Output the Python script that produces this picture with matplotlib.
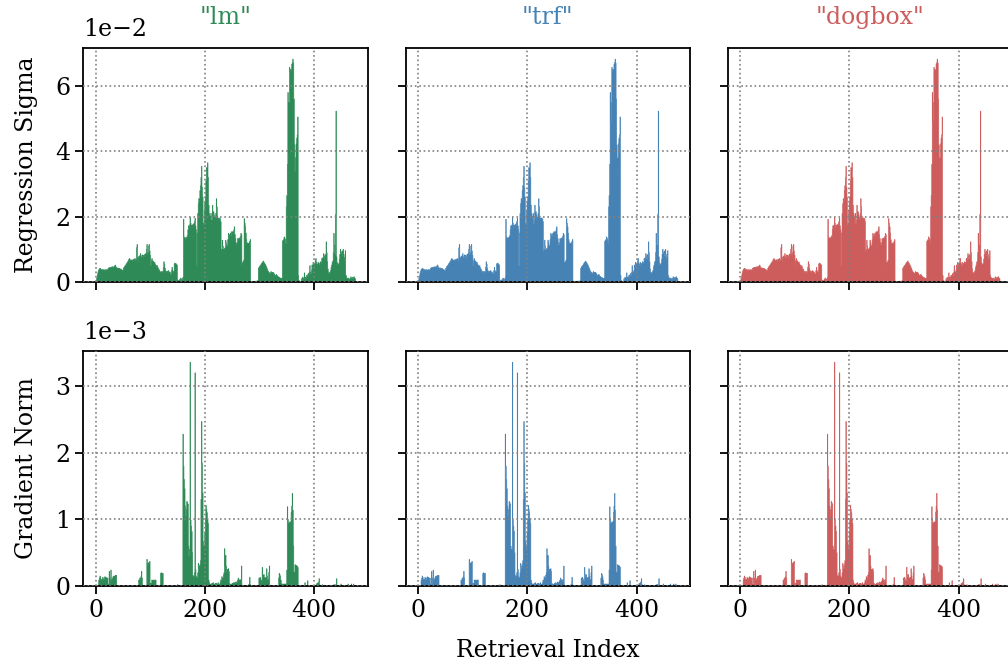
import numpy as np
import matplotlib
matplotlib.use("Agg")
import matplotlib.pyplot as plt

plt.rcParams['font.family'] = ['DejaVu Serif']

methods = ['"lm"', '"trf"', '"dogbox"']
colors = ['#2e8b57', '#4682b4', '#cd5c5c']
row_labels = ['Regression Sigma', 'Gradient Norm']
x_label = 'Retrieval Index'
xticks = [0, 200, 400]
sigma_yticks = [0, 2, 4, 6]
grad_yticks = [0, 1, 2, 3]
SIGMA_SCALE = 1e-2
GRAD_SCALE = 1e-3

# Regression sigma (units of 1e-2), one value per retrieval index
sigma = [
    0.05, 0.12, 0.2, 0.28, 0.34, 0.38, 0.4, 0.42, 0.41, 0.38,
    0.37, 0.38, 0.36, 0.37, 0.38, 0.36, 0.37, 0.37, 0.38, 0.36,
    0.37, 0.38, 0.42, 0.43, 0.44, 0.43, 0.45, 0.44, 0.46, 0.45,
    0.47, 0.46, 0.45, 0.48, 0.5, 0.52, 0.47, 0.44, 0.43, 0.42,
    0.43, 0.42, 0.42, 0.41, 0.4, 0.39, 0.38, 0.37, 0.35, 0.36,
    0.42, 0.45, 0.48, 0.5, 0.52, 0.55, 0.58, 0.6, 0.63, 0.66,
    0.7, 0.72, 0.68, 0.67, 0.66, 0.68, 0.67, 0.66, 0.69, 0.7,
    0.67, 0.72, 0.66, 0.68, 1.05, 1.15, 0.75, 0.62, 0.78, 0.8,
    0.76, 0.87, 0.77, 0.74, 0.83, 0.78, 0.82, 0.75, 0.8, 0.85,
    0.79, 0.88, 1.0, 1.15, 0.84, 0.9, 1.1, 1.15, 0.95, 0.82,
    0.5, 0.65, 0.72, 0.66, 0.64, 0.62, 0.58, 0.6, 0.55, 0.52,
    0.5, 0.48, 0.5, 0.44, 0.4, 0.38, 0.34, 0.3, 0.31, 0.32,
    0.3, 0.32, 0.3, 0.45, 0.62, 0.55, 0.42, 0.35, 0.32, 0.3,
    0.33, 0.32, 0.35, 0.3, 0.31, 0.3, 0.25, 0.22, 0.35, 0.45,
    0.35, 0.28, 0.32, 0.55, 0.58, 0.55, 0.56, 0.53, 0.52, 0.06,
    0.04, 0.03, 0.05, 0.08, 0.1, 0.12, 0.08, 0.05, 0.1, 0.15,
    1.92, 1.38, 1.35, 1.33, 1.36, 1.34, 1.38, 1.42, 1.6, 1.72,
    1.68, 1.75, 1.97, 1.8, 1.65, 1.74, 1.7, 1.76, 1.72, 1.8,
    1.85, 1.95, 1.72, 1.6, 0.5, 1.5, 2.1, 2.4, 2.55, 2.5,
    2.8, 2.95, 3.2, 3.54, 2.9, 2.6, 1.75, 1.8, 2.2, 2.45,
    2.6, 3.1, 3.5, 3.4, 3.65, 3.2, 2.35, 2.1, 2.02, 1.95,
    2.1, 1.79, 1.9, 2.35, 2.0, 2.15, 2.05, 1.99, 1.9, 2.1,
    2.55, 2.3, 2.02, 1.95, 1.94, 1.96, 1.92, 1.94, 1.85, 0.93,
    1.0, 1.28, 1.1, 0.98, 1.0, 1.03, 1.05, 1.28, 1.2, 1.12,
    1.12, 1.3, 1.49, 1.45, 1.4, 1.46, 1.5, 1.42, 1.54, 1.5,
    1.54, 1.48, 1.6, 1.69, 1.45, 1.33, 1.2, 1.13, 1.2, 1.33,
    1.3, 1.33, 1.35, 1.32, 1.4, 1.49, 1.45, 0.54, 0.6, 0.62,
    0.67, 1.94, 1.8, 1.69, 1.5, 1.3, 1.18, 1.2, 1.18, 1.17,
    1.2, 1.25, 1.3, 0.03, 0.02, 0.02, 0.01, 0.01, 0.02, 0.01,
    0.01, 0.02, 0.03, 0.02, 0.03, 0.02, 0.05, 0.42, 0.45, 0.48,
    0.5, 0.52, 0.55, 0.58, 0.6, 0.62, 0.64, 0.6, 0.58, 0.55,
    0.52, 0.48, 0.44, 0.4, 0.35, 0.32, 0.3, 0.28, 0.26, 0.28,
    0.32, 0.3, 0.28, 0.3, 0.29, 0.27, 0.24, 0.21, 0.2, 0.22,
    0.23, 0.2, 0.18, 0.16, 0.15, 0.14, 0.13, 0.12, 0.11, 0.1,
    0.12, 1.25, 1.28, 1.3, 1.38, 1.35, 1.3, 1.18, 2.3, 2.65,
    3.6, 5.8, 4.9, 5.5, 6.57, 6.45, 6.5, 6.47, 6.67, 6.72,
    6.82, 6.7, 5.6, 4.2, 3.39, 3.8, 4.23, 4.4, 4.5, 5.05,
    0.2, 0.05, 0.03, 0.02, 0.02, 0.03, 0.1, 0.08, 0.15, 0.05,
    0.12, 0.28, 0.1, 0.15, 0.12, 0.2, 0.18, 0.22, 0.26, 0.2,
    0.3, 0.5, 0.3, 0.25, 0.35, 0.52, 0.45, 0.6, 0.55, 0.5,
    0.55, 0.65, 0.72, 0.6, 0.55, 0.5, 0.6, 0.58, 0.52, 0.56,
    0.62, 0.55, 0.6, 0.72, 0.65, 0.75, 0.87, 0.8, 0.7, 0.84,
    0.78, 1.23, 0.9, 0.62, 0.4, 0.3, 0.26, 0.28, 0.31, 0.35,
    0.45, 0.52, 0.6, 0.64, 0.9, 1.49, 1.13, 0.85, 2.07, 5.23,
    0.77, 0.6, 0.52, 0.55, 0.57, 0.7, 0.85, 1.0, 0.9, 0.87,
    0.95, 0.8, 1.0, 0.85, 0.67, 0.75, 0.96, 0.21, 0.15, 0.12,
    0.11, 0.1, 0.12, 0.09, 0.08, 0.12, 0.16, 0.1, 0.12, 0.14,
    0.1, 0.15, 0.16, 0.12, 0.1,
]

# Gradient norm (units of 1e-3), one value per retrieval index
grad = [
    0, 0, 0, 0, 0, 0.09, 0.12, 0.15, 0.13, 0.1,
    0.09, 0.1, 0.13, 0.11, 0.09, 0.12, 0.14, 0.12, 0.13, 0.12,
    0.1, 0.12, 0.03, 0.02, 0.22, 0.04, 0.12, 0.24, 0.1, 0.1,
    0.12, 0.14, 0.15, 0.14, 0.15, 0.16, 0.15, 0.16, 0, 0,
    0, 0, 0, 0, 0, 0, 0, 0, 0, 0,
    0, 0, 0, 0, 0, 0, 0, 0, 0, 0,
    0, 0, 0, 0, 0, 0, 0, 0, 0, 0,
    0, 0, 0, 0, 0, 0, 0, 0, 0.09, 0.06,
    0.12, 0.1, 0.14, 0.22, 0.12, 0, 0, 0, 0, 0,
    0, 0, 0, 0.4, 0.34, 0.32, 0.35, 0.33, 0.37, 0.02,
    0.04, 0.02, 0.09, 0.08, 0.09, 0.09, 0.08, 0.09, 0.09, 0.09,
    0, 0, 0, 0, 0, 0, 0, 0, 0.19, 0.2,
    0.19, 0.18, 0.19, 0, 0, 0, 0, 0, 0, 0,
    0, 0, 0, 0, 0, 0, 0, 0, 0, 0,
    0, 0, 0, 0, 0, 0, 0, 0, 0, 0.02,
    0, 0, 0, 0, 0.01, 0, 0, 0, 0, 2.28,
    1.8, 1.6, 1.46, 1.2, 1.04, 1.15, 1.27, 1.25, 1.23, 0.6,
    0.45, 0.55, 3.36, 0.99, 0.9, 0.82, 0.5, 0.16, 0.15, 0.14,
    0.2, 3.2, 0.25, 0.15, 0.13, 0.13, 0.2, 0.34, 0.3, 0.26,
    0.32, 0.38, 1.3, 2.47, 1.84, 1.4, 0.67, 0.6, 0.56, 0.8,
    1.0, 1.21, 1.15, 1.1, 1.0, 0.94, 0.09, 0.05, 0.03, 0.02,
    0.03, 0.03, 0.04, 0.02, 0.05, 0.03, 0.02, 0.03, 0.04, 0.02,
    0.04, 0.03, 0.02, 0.05, 0.03, 0.02, 0.03, 0.05, 0.09, 0.07,
    0.14, 0.1, 0.12, 0.165, 0.2, 0.56, 0.3, 0.46, 0.3, 0.21,
    0.25, 0.2, 0.26, 0.22, 0.04, 0.03, 0.02, 0.025, 0.03, 0.04,
    0.03, 0.05, 0.04, 0.03, 0.06, 0.05, 0.04, 0.06, 0.07, 0.09,
    0.12, 0.1, 0.08, 0.09, 0.06, 0.1, 0.3, 0.015, 0.01, 0.01,
    0.01, 0.005, 0.01, 0.005, 0.01, 0.005, 0.01, 0.005, 0.01, 0.02,
    0.03, 0.13, 0.02, 0, 0, 0, 0, 0, 0, 0,
    0, 0, 0, 0, 0, 0, 0, 0, 0.12, 0.1,
    0.13, 0.11, 0.08, 0.075, 0.28, 0.17, 0.14, 0.17, 0.12, 0.12,
    0.13, 0.12, 0.26, 0.15, 0.09, 0.1, 0.2, 0.3, 0.01, 0,
    0, 0, 0, 0, 0, 0, 0, 0, 0, 0,
    0, 0, 0, 0, 0.12, 0.19, 0.17, 0.14, 0.09, 0.03,
    0.03, 0.03, 0.03, 0.03, 0.03, 0.03, 0.03, 0.03, 0.03, 0.24,
    1.19, 1.0, 0.94, 0.95, 0.96, 0.95, 0.97, 1.11, 1.2, 1.39,
    1.14, 0.6, 0.21, 0.2, 0.32, 0.3, 0.31, 0.3, 0.3, 0.28,
    0.005, 0.005, 0.005, 0.005, 0.005, 0.005, 0.005, 0.005, 0.005, 0.005,
    0.01, 0.01, 0.05, 0.01, 0.005, 0.01, 0.01, 0.08, 0.01, 0.005,
    0.005, 0.01, 0.005, 0.005, 0.01, 0.005, 0.005, 0.005, 0.01, 0.005,
    0.005, 0.01, 0.01, 0.02, 0.04, 0.03, 0.05, 0.06, 0.11, 0.02,
    0.01, 0.005, 0.01, 0.005, 0.02, 0.01, 0.005, 0.01, 0.005, 0.01,
    0.005, 0.01, 0.005, 0.01, 0.005, 0.01, 0.005, 0.005, 0.01, 0.005,
    0.01, 0.005, 0.01, 0.005, 0.01, 0.02, 0.01, 0.02, 0.01, 0.02,
    0.11, 0.01, 0.005, 0.01, 0.005, 0.01, 0.005, 0.01, 0.03, 0.005,
    0.01, 0.005, 0.01, 0.005, 0.01, 0.005, 0.01, 0.005, 0.01, 0.005,
    0.01, 0.03, 0.005, 0.01, 0.005, 0.01, 0.005, 0.03, 0.01, 0.005,
    0.01, 0.03, 0.01, 0.005, 0.01,
]

sigma_vals = np.array(sigma) * SIGMA_SCALE
grad_vals = np.array(grad) * GRAD_SCALE
# bar edges: one unit-wide bar per retrieval index (indices 1..N)
edges = np.arange(len(sigma) + 1) + 0.5

FS = 17
fig = plt.figure(figsize=(10.08, 6.66), dpi=100)
W, H = 1008.0, 666.0
col_left = [83.3, 405.6, 727.7]
col_w = 284.4
rows = [(48, 282), (351, 586)]

axes = []
for r, (top, bot) in enumerate(rows):
    row_axes = []
    for c in range(3):
        rect = [col_left[c] / W, 1 - bot / H, col_w / W, (bot - top) / H]
        ax = fig.add_axes(rect)
        row_axes.append(ax)
    axes.append(row_axes)

for r in range(2):
    vals = sigma_vals if r == 0 else grad_vals
    yt = sigma_yticks if r == 0 else grad_yticks
    scale = SIGMA_SCALE if r == 0 else GRAD_SCALE
    for c in range(3):
        ax = axes[r][c]
        ax.stairs(vals, edges, fill=True, facecolor=colors[c], edgecolor=colors[c],
                  linewidth=0.4, snap=False)
        ax.set_xlim(-22.7, 497.7)
        ax.set_ylim(0, vals.max() * 1.05)
        ax.set_xticks(xticks)
        ax.set_yticks(np.array(yt) * scale)
        ax.ticklabel_format(axis='y', style='sci', scilimits=(0, 0), useMathText=False)
        ax.yaxis.get_offset_text().set_fontsize(FS)
        ax.yaxis.OFFSETTEXTPAD = 9
        ax.grid(True, linestyle=':', color='gray', linewidth=1.2)
        ax.set_axisbelow(False)
        ax.tick_params(direction='out', length=6, width=1.3, labelsize=FS)
        for s in ax.spines.values():
            s.set_linewidth(1.3)
        if r == 0:
            ax.tick_params(labelbottom=False)
            ax.set_title(methods[c], color=colors[c], fontsize=FS, pad=17)
        if c > 0:
            ax.tick_params(labelleft=False)
            ax.yaxis.get_offset_text().set_visible(False)
        else:
            ax.set_ylabel(row_labels[r], fontsize=FS, labelpad=12)

axes[1][1].set_xlabel(x_label, fontsize=FS, labelpad=12)

fig.savefig('out.png', dpi=100)
